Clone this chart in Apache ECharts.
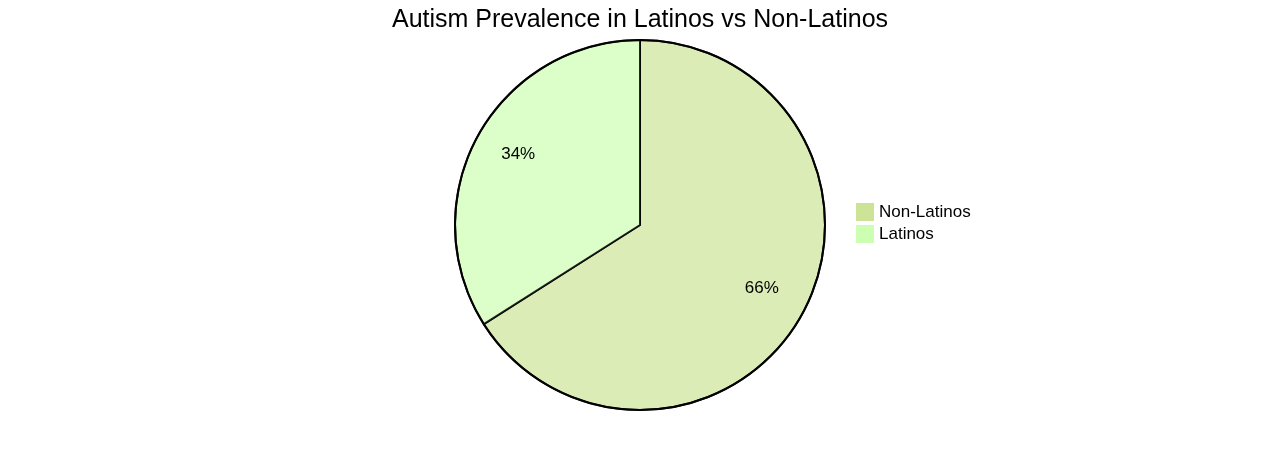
<!DOCTYPE html>
<html>
<head>
<meta charset="utf-8">
<script src="https://cdn.jsdelivr.net/npm/echarts@6/dist/echarts.min.js"></script>
<style>html,body{margin:0;padding:0;background:#fff}#c{width:1280px;height:450px}</style>
</head>
<body>
<div id="c"></div>
<script>
const title = 'Autism Prevalence in Latinos vs Non-Latinos';
const categories = ['Non-Latinos', 'Latinos'];
const values = [66, 34];
const legendColors = ['#cde498', '#cdffb2'];
const sliceColors = ['#dcecb7', '#dcffc9'];

const chart = echarts.init(document.getElementById('c'), null, {renderer: 'canvas'});
const font = '"Liberation Sans", Arial, sans-serif';
const data = categories.map((n, i) => ({name: n, value: values[i], itemStyle: {color: sliceColors[i]}}));
const R = 185;
chart.setOption({
  animation: false,
  title: {text: title, left: 'center', top: 3, textStyle: {fontFamily: font, fontSize: 25, fontWeight: 'normal', color: '#000'}},
  legend: {
    orient: 'vertical', left: 851, top: 198, itemWidth: 18, itemHeight: 18, itemGap: 4, icon: 'rect',
    textStyle: {fontFamily: font, fontSize: 17, color: '#000'},
    data: categories.map((n, i) => ({name: n, itemStyle: {color: legendColors[i], borderWidth: 0}}))
  },
  series: [
    {
      type: 'pie', center: [640, 225], radius: [0, R], startAngle: 90, clockwise: true,
      data: data, label: {show: false}, labelLine: {show: false},
      itemStyle: {borderColor: 'rgba(0,0,0,0.85)', borderWidth: 2}, emphasis: {disabled: true}
    },
    {
      type: 'pie', center: [640, 225], radius: [R * 0.47, R], startAngle: 90, clockwise: true, silent: true,
      data: categories.map((n, i) => ({name: n, value: values[i]})),
      itemStyle: {color: 'rgba(0,0,0,0)', borderWidth: 0},
      label: {show: true, position: 'inside', offset: [0, -4], formatter: p => Math.round(p.percent) + '%', fontFamily: font, fontSize: 17, color: '#000'},
      labelLine: {show: false}, emphasis: {disabled: true}
    },
    {
      type: 'pie', center: [640, 225], radius: [0, R], silent: true,
      data: [{name: '_outline', value: 1}],
      itemStyle: {color: 'rgba(0,0,0,0)', borderColor: '#000', borderWidth: 2},
      label: {show: false}, labelLine: {show: false}, emphasis: {disabled: true}
    }
  ]
});
</script>
</body>
</html>
